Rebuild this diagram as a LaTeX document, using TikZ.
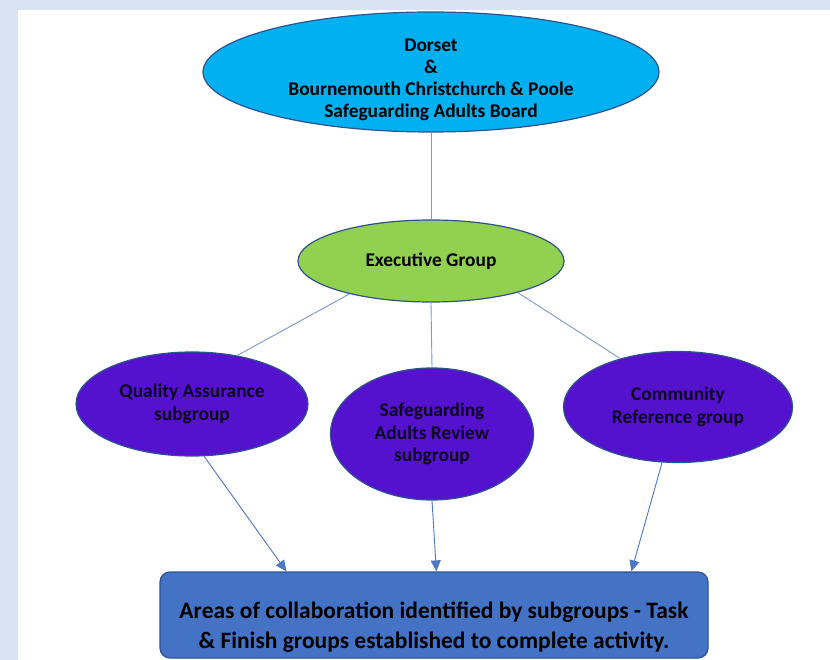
\documentclass[tikz,border=0pt]{standalone}
\usepackage{fontspec}
\setmainfont{Carlito}
\usepackage{xcolor}
\usepackage{tikz}
\usetikzlibrary{shapes}
\usetikzlibrary{shapes.geometric}
\usetikzlibrary{arrows.meta}

\definecolor{pagebg}{RGB}{218,227,243}
\definecolor{boardfill}{RGB}{0,176,240}
\definecolor{execfill}{RGB}{146,208,80}
\definecolor{subfill}{RGB}{84,18,206}
\definecolor{taskfill}{RGB}{68,114,196}
\definecolor{rimblue}{RGB}{47,82,143}
\definecolor{linkblue}{RGB}{122,152,210}

\begin{document}
\begin{tikzpicture}[
	x=1pt, y=-1pt,
	font=\bfseries
]
\tikzset{
    board/.style = {ellipse, draw=rimblue, line width=1.2pt, fill=boardfill, align=center, inner sep=0pt,
		minimum width=456pt, minimum height=120pt, font=\fontsize{19.4}{22}\selectfont\bfseries},
    execnode/.style = {ellipse, draw=rimblue, line width=1.2pt, fill=execfill, align=center, inner sep=0pt,
		minimum width=266pt, minimum height=82pt, font=\fontsize{19.4}{22}\selectfont\bfseries},
    subnode/.style = {ellipse, draw=rimblue, line width=1.2pt, fill=subfill, align=center, inner sep=0pt,
		text=black!85!subfill, font=\fontsize{19.4}{22.5}\selectfont\bfseries},
    taskbox/.style = {rectangle, rounded corners=10pt, draw=rimblue, line width=1.2pt, fill=taskfill, align=center,
		minimum width=548pt, minimum height=86pt, font=\fontsize{23.5}{30}\selectfont\bfseries},
		link/.style = {draw=linkblue, line width=0.9pt},
		arrowlink/.style = {link, -{Triangle[length=11pt,width=10pt]}, color=taskfill!85!linkblue}
}
% page
\useasboundingbox (0,0) rectangle (830,660);
\fill[pagebg] (0,0) rectangle (830,660);
\fill[white] (18,10) rectangle (830,660);

% nodes
\node [board] (SAB) at (431,72) {Dorset\\\&\\Bournemouth Christchurch \& Poole\\Safeguarding Adults Board\\[-34pt]};
\node [execnode] (EG) at (431,261) {Executive Group};
\node [subnode, minimum width=232pt, minimum height=104pt] (QA) at (192,404) {Quality Assurance\\subgroup};
\node [subnode, minimum width=203pt, minimum height=132pt] (SAR) at (432,434) {Safeguarding\\Adults Review\\subgroup};
\node [subnode, minimum width=229pt, minimum height=111pt] (CR) at (678,407) {Community\\Reference group};
\node [taskbox] (TF) at (434,615) {Areas of collaboration identified by subgroups - Task\\\& Finish groups established to complete activity.\\[-50pt]};

% connectors
\draw [link] (SAB.south) -- (EG.north);
\draw [link] (EG.202) -- (QA.47);
\draw [link] (EG.south) -- (SAR.north);
\draw [link] (EG.340) -- (CR.140);
\draw [arrowlink] (QA.283) -- ([xshift=127pt]TF.north west);
\draw [arrowlink] (SAR.south) -- ([xshift=277pt]TF.north west);
\draw [arrowlink] (CR.254) -- ([xshift=472pt]TF.north west);
\end{tikzpicture}
\end{document}
